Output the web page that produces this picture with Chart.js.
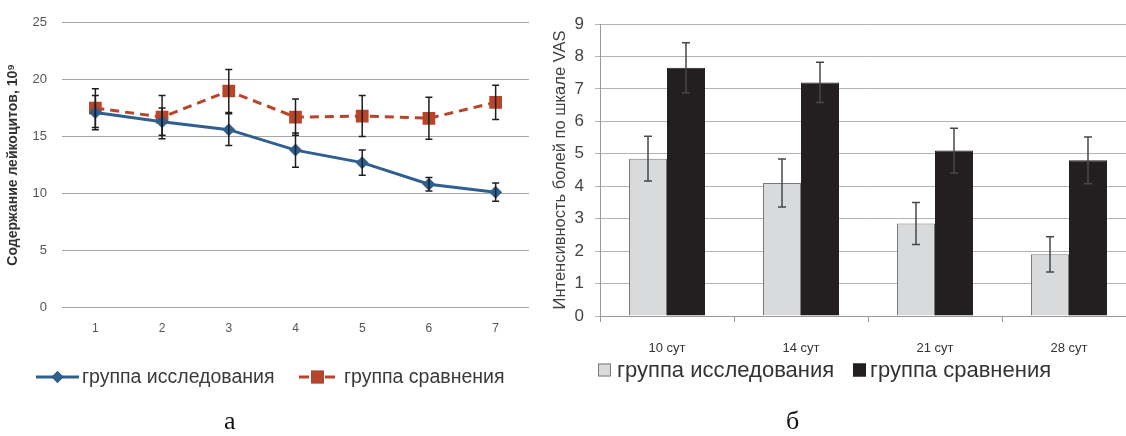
<!DOCTYPE html>
<html>
<head>
<meta charset="utf-8">
<script src="https://cdn.jsdelivr.net/npm/chart.js@4.4.1/dist/chart.umd.min.js"></script>
<style>
  html, body { margin: 0; padding: 0; background: #fff; }
  body { width: 1126px; height: 436px; overflow: hidden; position: relative; }
  canvas { position: absolute; top: 0; }
  #chartA { left: 0; }
  #chartB { left: 540px; }
  .caption { position: absolute; top: 406px; font: 26px "Liberation Serif", "Times New Roman", serif; color: #111; }
</style>
</head>
<body>
<canvas id="chartA" width="540" height="436"></canvas>
<canvas id="chartB" width="620" height="436"></canvas>
<div class="caption" style="left:224px">а</div>
<div class="caption" style="left:786px">б</div>
<script>
// chart а: leukocytes by time point
const periods = ['1', '2', '3', '4', '5', '6', '7'];
const studyWbc = [17.1, 16.3, 15.6, 13.8, 12.7, 10.8, 10.1];
const studyWbcErr = [1.5, 1.2, 1.4, 1.5, 1.1, 0.6, 0.8];
const controlWbc = [17.5, 16.7, 19.0, 16.7, 16.8, 16.6, 18.0];
const controlWbcErr = [1.7, 1.9, 1.9, 1.6, 1.8, 1.85, 1.5];

// chart б: pain intensity (VAS)
const days = ['10 сут', '14 сут', '21 сут', '28 сут'];
const studyVas = [4.85, 4.1, 2.85, 1.9];
const studyVasErr = [0.69, 0.74, 0.65, 0.54];
const controlVas = [7.65, 7.2, 5.1, 4.8];
const controlVasErr = [0.77, 0.62, 0.69, 0.72];

const groupNames = ['группа исследования', 'группа сравнения'];

const BLUE = '#2f5f8f';
const RED = '#b8452a';
const LIGHT = '#d9dadb';
const DARK = '#231f20';

Chart.defaults.font.family = '"Liberation Sans", Arial, sans-serif';

// error bars, drawn over the marks
const errorBars = {
  id: 'errorBars',
  afterDatasetsDraw(chart, args, opts) {
    const ctx = chart.ctx;
    chart.data.datasets.forEach((ds, i) => {
      const meta = chart.getDatasetMeta(i);
      const yScale = chart.scales[meta.yAxisID];
      ctx.save();
      ctx.strokeStyle = opts.color;
      ctx.lineWidth = opts.width;
      meta.data.forEach((el, j) => {
        const top = yScale.getPixelForValue(ds.data[j] + ds.errors[j]);
        const bot = yScale.getPixelForValue(ds.data[j] - ds.errors[j]);
        ctx.beginPath();
        ctx.moveTo(el.x, top); ctx.lineTo(el.x, bot);
        ctx.moveTo(el.x - opts.cap, top); ctx.lineTo(el.x + opts.cap, top);
        ctx.moveTo(el.x - opts.cap, bot); ctx.lineTo(el.x + opts.cap, bot);
        ctx.stroke();
      });
      ctx.restore();
    });
  }
};

// hand-placed legend like the original figure
const sideLegend = {
  id: 'sideLegend',
  afterDraw(chart, args, opts) {
    const ctx = chart.ctx;
    ctx.save();
    ctx.font = opts.font;
    ctx.fillStyle = opts.color;
    ctx.textBaseline = 'middle';
    opts.items.forEach((it, i) => {
      const y = opts.y;
      const ds = chart.data.datasets[i];
      if (it.kind === 'line') {
        ctx.save();
        ctx.strokeStyle = ds.borderColor;
        ctx.lineWidth = ds.borderWidth;
        ctx.setLineDash(it.dash || []);
        ctx.beginPath();
        ctx.moveTo(it.x0, y); ctx.lineTo(it.x1, y);
        ctx.stroke();
        ctx.restore();
        Chart.helpers.drawPoint(ctx, {
          pointStyle: ds.pointStyle, radius: it.r, borderWidth: 0, rotation: 0
        }, (it.x0 + it.x1) / 2, y);
        ctx.fillStyle = ds.backgroundColor;
        ctx.fill();
      } else {
        ctx.fillStyle = ds.backgroundColor;
        ctx.fillRect(it.x0, y - it.size / 2, it.size, it.size);
        ctx.strokeStyle = ds.borderColor;
        ctx.lineWidth = 1;
        ctx.strokeRect(it.x0 + 0.5, y - it.size / 2 + 0.5, it.size - 1, it.size - 1);
      }
      ctx.fillStyle = opts.color;
      ctx.fillText(ds.label, it.tx, y + 1);
    });
    ctx.restore();
  }
};

new Chart(document.getElementById('chartA'), {
  type: 'line',
  data: {
    labels: periods,
    datasets: [
      {
        label: groupNames[0],
        data: studyWbc,
        errors: studyWbcErr,
        borderColor: BLUE,
        backgroundColor: BLUE,
        borderWidth: 3,
        pointStyle: 'rectRot',
        pointRadius: 6.5,
        pointBorderWidth: 0
      },
      {
        label: groupNames[1],
        data: controlWbc,
        errors: controlWbcErr,
        borderColor: RED,
        backgroundColor: RED,
        borderWidth: 3,
        borderDash: [9, 6],
        pointStyle: 'rect',
        pointRadius: 9,
        pointBorderWidth: 0
      }
    ]
  },
  options: {
    responsive: false,
    animation: false,
    layout: { padding: { top: 19, right: 11, left: 0, bottom: 0 } },
    plugins: {
      legend: { display: false },
      tooltip: { enabled: false },
      errorBars: { color: '#1e1e1e', width: 1.5, cap: 3.5 },
      sideLegend: {
        y: 377,
        font: '19.5px "Liberation Sans", Arial, sans-serif',
        color: '#3a3a3a',
        items: [
          { kind: 'line', x0: 36, x1: 79, r: 6, tx: 82 },
          { kind: 'line', x0: 299, x1: 336, r: 9, dash: [10, 3], tx: 344 }
        ]
      }
    },
    scales: {
      x: {
        offset: true,
        grid: { display: false },
        border: { display: false },
        ticks: { color: '#555', font: { size: 12 }, padding: 6 },
        afterFit: (s) => { s.height = 129; }
      },
      y: {
        min: 0,
        max: 25,
        ticks: { stepSize: 5, color: '#555', font: { size: 13 }, padding: 15 },
        grid: { color: '#a6a6a6', drawTicks: false },
        border: { display: false },
        title: {
          display: true,
          text: 'Содержание лейкоцитов, 10⁹',
          color: '#333',
          font: { size: 14, weight: 'bold' },
          padding: { top: 5, bottom: 0 }
        },
        afterFit: (s) => { s.width = 62; }
      }
    }
  },
  plugins: [errorBars, sideLegend]
});

new Chart(document.getElementById('chartB'), {
  type: 'bar',
  data: {
    labels: days,
    datasets: [
      {
        label: groupNames[0],
        data: studyVas,
        errors: studyVasErr,
        backgroundColor: LIGHT,
        borderColor: '#7a7a7a',
        borderWidth: 1
      },
      {
        label: groupNames[1],
        data: controlVas,
        errors: controlVasErr,
        backgroundColor: DARK,
        borderColor: DARK,
        borderWidth: 1
      }
    ]
  },
  options: {
    responsive: false,
    animation: false,
    categoryPercentage: 0.567,
    barPercentage: 1.0,
    layout: { padding: { top: 24, right: 24, left: 0, bottom: 0 } },
    plugins: {
      legend: { display: false },
      tooltip: { enabled: false },
      errorBars: { color: '#484848', width: 1.5, cap: 4 },
      sideLegend: {
        y: 370,
        font: '22px "Liberation Sans", Arial, sans-serif',
        color: '#333',
        items: [
          { kind: 'box', x0: 58, size: 13, tx: 77 },
          { kind: 'box', x0: 313, size: 13, tx: 330 }
        ]
      }
    },
    scales: {
      x: {
        grid: { drawOnChartArea: false, tickLength: 6, color: '#999' },
        border: { color: '#999' },
        ticks: { color: '#333', font: { size: 13 }, padding: 19 },
        afterFit: (s) => { s.height = 120; }
      },
      y: {
        min: 0,
        max: 9,
        ticks: { stepSize: 1, color: '#444', font: { size: 17 }, padding: 11 },
        grid: { color: '#b3b3b3', tickLength: 5 },
        border: { color: '#999' },
        title: {
          display: true,
          text: 'Интенсивность болей по шкале VAS',
          color: '#404040',
          font: { size: 16.5 },
          padding: { top: 11, bottom: 0 }
        },
        afterFit: (s) => { s.width = 60; }
      }
    }
  },
  plugins: [errorBars, sideLegend]
});
</script>
</body>
</html>
